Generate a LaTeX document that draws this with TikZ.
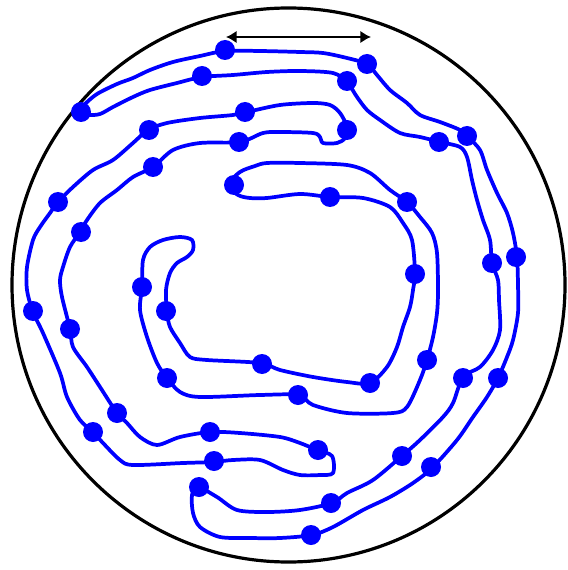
\documentclass[tikz,border=0pt]{standalone}
\usetikzlibrary{arrows.meta}
\begin{document}
\begin{tikzpicture}[x=0.75pt,y=-0.75pt,
  strand/.style={draw=blue,line width=2.8pt,line join=round},
  dot/.style={circle,fill=blue,inner sep=0pt,minimum size=15pt},
  rim/.style={draw=black,line width=2.4pt},
  span/.style={draw=black,line width=1.5pt,{Latex[length=8pt,width=9.5pt]}-{Latex[length=8pt,width=9.5pt]}}]
\useasboundingbox (0,0) rectangle (567,570);
\node[draw=none,fill=none] (rimc) at (288.5,285) {};
\draw[rim] (rimc.center) ellipse [x radius=276.5, y radius=277];
% outer loop
\draw[strand] plot[smooth cycle,tension=0.5] coordinates {
(78,112) (85,104) (97,94) (117,84) (133,78) (150,70) (173,62) (200,56) (225,51) (260,51) (300,52) (323,53) (347,58) (367,64) (377,75) (390,90) (407,103) (420,115) (440,122) (460,130) (468,137) (480,150) (487,170) (497,193) (507,213) (513,233) (517,257) (518,285) (518,313) (513,340) (507,357) (498,378) (487,397) (473,417) (457,440) (432,468) (413,483) (390,497) (363,510) (333,527) (312,535) (280,538) (250,538) (220,537) (200,527) (193,513) (192,495) (198,487) (217,497) (237,510) (267,512) (300,510) (332,503) (347,493) (373,480) (403,455) (420,440) (443,417) (453,403) (463,377) (480,367) (493,350) (500,330) (499,300) (498,280) (492,263) (490,240) (483,220) (477,200) (472,180) (467,157) (460,147) (440,142) (420,137) (400,133) (380,120) (367,110) (357,97) (347,82) (333,73) (300,71) (267,72) (233,75) (202,77) (177,83) (150,90) (133,97) (113,107) (100,114) (88,115)};
% middle loop
\draw[strand] plot[smooth cycle,tension=0.5] coordinates {
(347,127) (340,113) (330,105) (313,103) (280,105) (247,112) (233,115) (200,118) (167,123) (148,130) (133,143) (113,160) (93,170) (73,187) (58,202) (50,213) (40,227) (33,240) (27,267) (27,290) (33,312) (43,333) (60,373) (67,397) (80,420) (93,432) (103,443) (120,460) (133,465) (183,463) (213,462) (233,460) (260,460) (283,470) (300,475) (320,475) (333,473) (332,456) (317,450) (300,443) (280,437) (240,433) (210,432) (180,437) (157,445) (140,437) (127,423) (117,413) (100,387) (87,367) (73,347) (70,329) (62,297) (60,280) (63,267) (70,247) (80,232) (87,220) (100,203) (117,190) (133,177) (153,167) (173,150) (200,143) (240,142) (263,133) (280,132) (313,133) (320,137) (323,143) (337,143) (345,138)};
% inner loop
\draw[strand] plot[smooth cycle,tension=0.5] coordinates {
(228,185) (240,172) (255,166) (267,163) (300,163) (347,165) (370,173) (390,190) (407,202) (420,217) (432,233) (437,253) (438,290) (437,313) (433,337) (427,360) (420,380) (407,407) (393,413) (347,413) (313,405) (298,395) (260,395) (200,397) (180,392) (167,378) (157,363) (147,337) (140,310) (142,287) (143,260) (150,247) (163,240) (180,237) (192,240) (193,250) (187,257) (177,263) (170,273) (166,290) (167,312) (170,327) (180,343) (190,357) (207,360) (260,363) (280,370) (313,377) (347,382) (370,383) (387,367) (397,347) (403,327) (410,307) (413,290) (415,273) (412,240) (403,223) (390,207) (363,198) (330,197) (300,194) (267,198) (250,198) (238,195)};
% dots
\foreach \n/\p in {a1/{225,50},a2/{367,64},a3/{467,136},a4/{516,257},a5/{498,378},a6/{431,467},a7/{311,535},a8/{199,487},a9/{331,503},a10/{402,456},a11/{463,378},a12/{492,263},a13/{439,142},a14/{347,81},a15/{202,76},a16/{81,112},
 b1/{245,112},b2/{347,130},b3/{239,142},b4/{153,167},b5/{81,232},b6/{70,329},b7/{117,413},b8/{210,432},b9/{318,450},b10/{214,461},b11/{93,432},b12/{33,311},b13/{58,202},b14/{149,130},
 c1/{234,185},c2/{407,202},c3/{427,360},c4/{298,395},c5/{167,378},c6/{142,287},c7/{166,311},c8/{262,364},c9/{370,383},c10/{415,274},c11/{330,197}}
  \node[dot] (\n) at (\p) {};
% span arrow
\coordinate (sL) at (226,37);
\coordinate (sR) at (371,37);
\draw[span] (sL) -- (sR);
\end{tikzpicture}
\end{document}
